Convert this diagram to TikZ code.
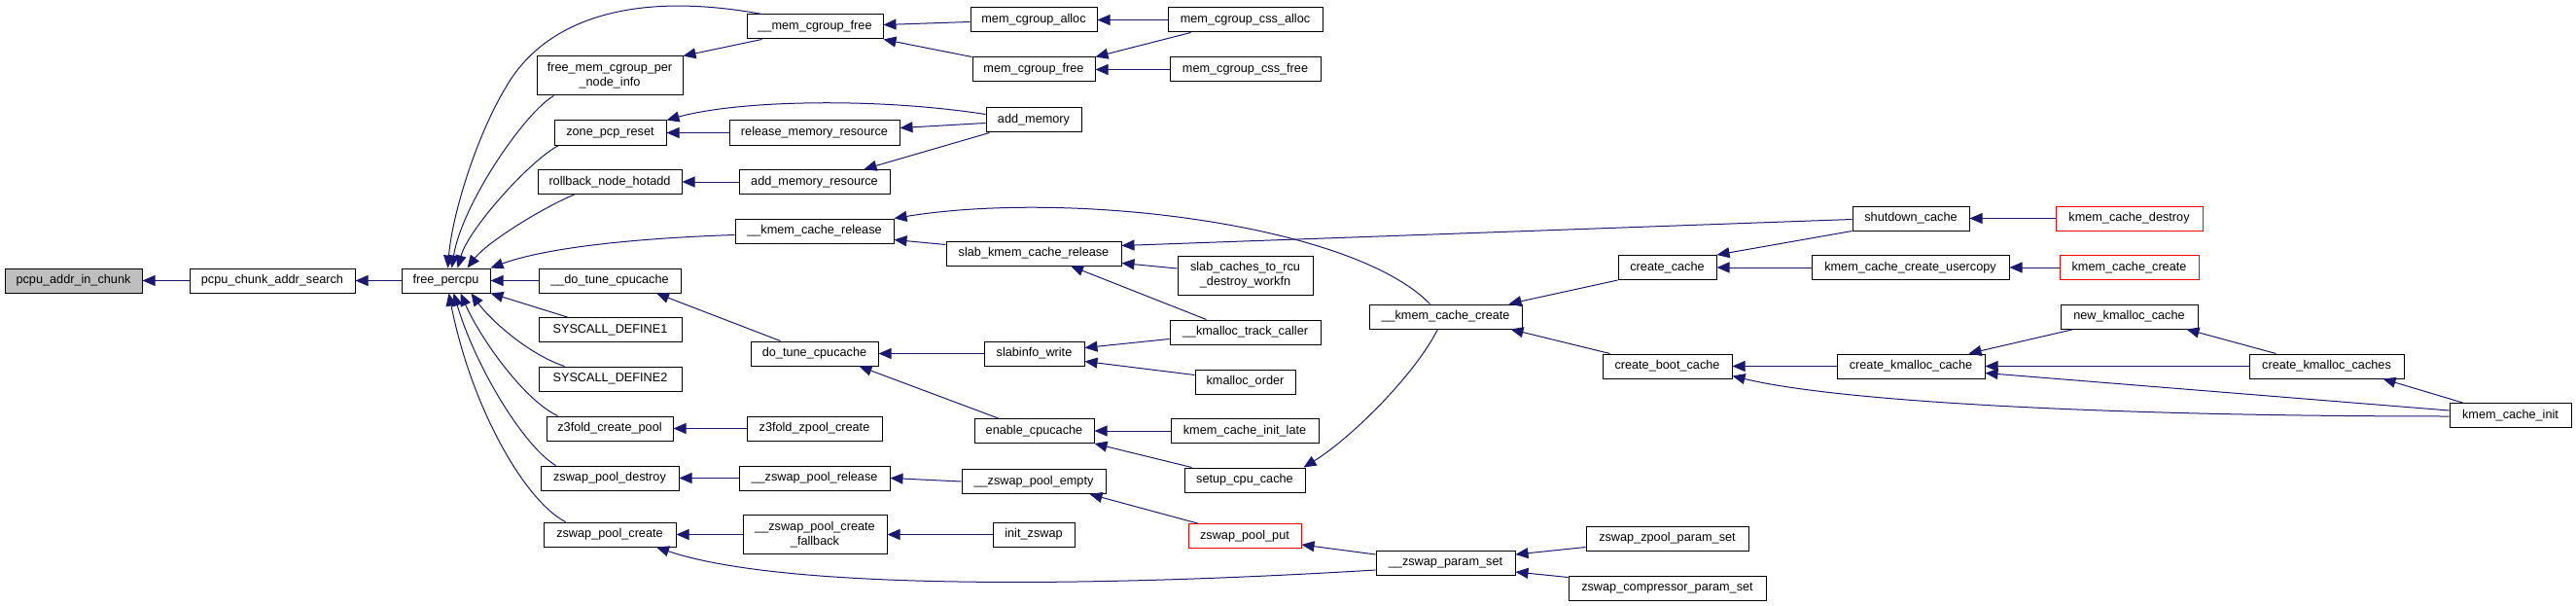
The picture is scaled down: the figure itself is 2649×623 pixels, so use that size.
\documentclass[tikz,border=0pt]{standalone}
\usepackage{fontspec}
\setmainfont{Liberation Sans}
\usetikzlibrary{arrows.meta}
\definecolor{dxedge}{HTML}{191970}
\definecolor{dxroot}{HTML}{BFBFBF}
\definecolor{dxext}{HTML}{FF0000}

\begin{document}
\begin{tikzpicture}[x=1pt, y=-1pt,
  % plain function box
  fnbox/.style={draw=black, fill=white, line width=1pt, inner sep=0pt, minimum height=25pt,
    font=\fontsize{12.7}{15}\selectfont, align=center},
  % the function the graph is about
  fnroot/.style={fnbox, fill=dxroot},
  % callers whose own callers are cut off
  fnext/.style={fnbox, draw=dxext},
  % caller -> callee, head sits on the callee
  call/.style={draw=dxedge, line width=1pt, -{Triangle[length=13pt,width=11pt]}},
]
\useasboundingbox (0,0) rectangle (2649,623);

% column 0/1
\node[fnroot, minimum width=141] (pcpuaddr)   at (75.5,288.5) {pcpu\_addr\_in\_chunk};
\node[fnbox,  minimum width=170] (pcpusearch) at (280,288.5)  {pcpu\_chunk\_addr\_search};
\node[fnbox,  minimum width=91]  (freepercpu) at (458.5,288.5) {free\_percpu};

% column 2
\node[fnbox, minimum width=150, minimum height=40] (freememcg) at (627,78) {free\_mem\_cgroup\_per\\\_node\_info};
\node[fnbox, minimum width=115] (zonepcp)   at (627.5,136.5) {zone\_pcp\_reset};
\node[fnbox, minimum width=148] (rollback)  at (627,187)     {rollback\_node\_hotadd};
\node[fnbox, minimum width=146] (dotune)    at (627,288.5)   {\_\_do\_tune\_cpucache};
\node[fnbox, minimum width=147] (syscall1)  at (627.5,339)   {SYSCALL\_DEFINE1};
\node[fnbox, minimum width=147] (syscall2)  at (627.5,389.5) {SYSCALL\_DEFINE2};
\node[fnbox, minimum width=130] (z3create)  at (627,440.5)   {z3fold\_create\_pool};
\node[fnbox, minimum width=142] (zpdestroy) at (627,491.5)   {zswap\_pool\_destroy};
\node[fnbox, minimum width=136] (zpcreate)  at (627,549.5)   {zswap\_pool\_create};

% column 3
\node[fnbox, minimum width=140] (memcgfreeu) at (838,27.5)    {\_\_mem\_cgroup\_free};
\node[fnbox, minimum width=175] (releasemem) at (837.5,136.5) {release\_memory\_resource};
\node[fnbox, minimum width=155] (addmemres)  at (837.5,187)   {add\_memory\_resource};
\node[fnbox, minimum width=163] (kmemrel)    at (837.5,237.5) {\_\_kmem\_cache\_release};
\node[fnbox, minimum width=131] (dotunec)    at (837.5,363.5) {do\_tune\_cpucache};
\node[fnbox, minimum width=139] (z3zpool)    at (837.5,440.5) {z3fold\_zpool\_create};
\node[fnbox, minimum width=155] (zprelease)  at (837.5,491.5) {\_\_zswap\_pool\_release};
\node[fnbox, minimum width=148, minimum height=40] (fallback) at (838,549.5) {\_\_zswap\_pool\_create\\\_fallback};

% column 4
\node[fnbox, minimum width=130] (memcgalloc) at (1063,20.5)   {mem\_cgroup\_alloc};
\node[fnbox, minimum width=126] (memcgfree)  at (1063,71.5)   {mem\_cgroup\_free};
\node[fnbox, minimum width=98]  (addmemory)  at (1063,123.5)  {add\_memory};
\node[fnbox, minimum width=180] (slabrel)    at (1063,260.5)  {slab\_kmem\_cache\_release};
\node[fnbox, minimum width=103] (slabinfo)   at (1063.5,363.5) {slabinfo\_write};
\node[fnbox, minimum width=123] (enablecpu)  at (1063.5,443)  {enable\_cpucache};
\node[fnbox, minimum width=148] (zpempty)    at (1063,495)    {\_\_zswap\_pool\_empty};
\node[fnbox, minimum width=84]  (initzswap)  at (1063,549.5)  {init\_zswap};

% column 5
\node[fnbox, minimum width=159] (cssalloc)     at (1280.5,20.5)  {mem\_cgroup\_css\_alloc};
\node[fnbox, minimum width=155] (cssfree)      at (1280.5,71.5)  {mem\_cgroup\_css\_free};
\node[fnbox, minimum width=139, minimum height=40] (rcuwork) at (1280.5,283) {slab\_caches\_to\_rcu\\\_destroy\_workfn};
\node[fnbox, minimum width=155] (kmalloctrack) at (1280.5,341.5) {\_\_kmalloc\_track\_caller};
\node[fnbox, minimum width=103] (kmallocorder) at (1280.5,392.5) {kmalloc\_order};
\node[fnbox, minimum width=152] (initlate)     at (1280,443)     {kmem\_cache\_init\_late};
\node[fnbox, minimum width=124] (setupcpu)     at (1280,493.5)   {setup\_cpu\_cache};
\node[fnext, minimum width=116] (zppput)       at (1280,551)     {zswap\_pool\_put};

% column 6
\node[fnbox, minimum width=157] (kmemcreateu) at (1486.5,325.5) {\_\_kmem\_cache\_create};
\node[fnbox, minimum width=143] (zparamset)   at (1486.5,579)   {\_\_zswap\_param\_set};

% column 7
\node[fnbox, minimum width=101] (createcache) at (1714.5,275)   {create\_cache};
\node[fnbox, minimum width=133] (bootcache)   at (1714.5,376.5) {create\_boot\_cache};
\node[fnbox, minimum width=167] (zpoolparam)  at (1714.5,553.5) {zswap\_zpool\_param\_set};
\node[fnbox, minimum width=203] (compparam)   at (1714.5,604.5) {zswap\_compressor\_param\_set};

% columns 8..11
\node[fnbox, minimum width=120] (shutdown)   at (1965,224.5)   {shutdown\_cache};
\node[fnbox, minimum width=203] (usercopy)   at (1964.5,275)   {kmem\_cache\_create\_usercopy};
\node[fnbox, minimum width=152] (createkmc)  at (1965,376.5)   {create\_kmalloc\_cache};
\node[fnext, minimum width=151] (kcdestroy)  at (2189.5,224.5) {kmem\_cache\_destroy};
\node[fnext, minimum width=143] (kccreate)   at (2189.5,275)   {kmem\_cache\_create};
\node[fnbox, minimum width=141] (newkmc)     at (2189.5,325.5) {new\_kmalloc\_cache};
\node[fnbox, minimum width=159] (createkmcs) at (2392.5,376.5) {create\_kmalloc\_caches};
\node[fnbox, minimum width=125] (kcinit)     at (2581.5,427)   {kmem\_cache\_init};

% straight calls, side to side
\foreach \src/\dst in {pcpusearch/pcpuaddr, freepercpu/pcpusearch, dotune/freepercpu,
  cssalloc/memcgalloc, cssfree/memcgfree, releasemem/zonepcp, addmemres/rollback,
  slabinfo/dotunec, initlate/enablecpu, z3zpool/z3create, zprelease/zpdestroy,
  zpempty/zprelease, fallback/zpcreate, initzswap/fallback, kcdestroy/shutdown,
  usercopy/createcache, kccreate/usercopy, createkmc/bootcache, createkmcs/createkmc}
  \draw[call] (\src.west) -- (\dst.east);

% everything that lands on free_percpu
\draw[call] ([xshift=16pt]memcgfreeu.north west) .. controls (650,-10) and (560,20) .. (520,90)
  .. controls (490,140) and (465,220) .. ([xshift=2pt]freepercpu.north);
\draw[call] ([xshift=18pt]freememcg.south west) .. controls (540,115) and (475,210) .. ([xshift=6pt]freepercpu.north);
\draw[call] ([xshift=5pt]zonepcp.south west) .. controls (545,165) and (482,235) .. ([xshift=12pt]freepercpu.north);
\draw[call] ([xshift=38pt]rollback.south west) .. controls (555,215) and (500,250) .. ([xshift=22pt]freepercpu.north);
\draw[call] ([yshift=-4pt]kmemrel.west) .. controls (650,245) and (560,255) .. (freepercpu.north east);
\draw[call] ([xshift=30pt]syscall1.north west) -- (freepercpu.south east);
\draw[call] ([xshift=27pt]syscall2.north west) .. controls (545,365) and (505,330) .. ([xshift=26pt]freepercpu.south);
\draw[call] ([xshift=12pt]z3create.north west) .. controls (540,412) and (495,350) .. ([xshift=15pt]freepercpu.south);
\draw[call] ([xshift=16pt]zpdestroy.north west) .. controls (540,460) and (490,380) .. ([xshift=8pt]freepercpu.south);
\draw[call] ([xshift=23pt]zpcreate.north west) .. controls (540,515) and (485,420) .. ([xshift=3pt]freepercpu.south);

% mem_cgroup
\draw[call] ([xshift=16pt]memcgfreeu.south west) -- (freememcg.north east);
\draw[call] ([yshift=-2pt]memcgalloc.west) -- ([yshift=2pt]memcgfreeu.east);
\draw[call] (memcgfree.north west) -- (memcgfreeu.south east);
\draw[call] ([xshift=24pt]cssalloc.south west) -- (memcgfree.north east);

% memory hotplug
\draw[call] ([yshift=6pt]addmemory.west) .. controls (900,100) and (760,103) .. (zonepcp.north east);
\draw[call] ([yshift=-3pt]addmemory.west) -- ([yshift=5pt]releasemem.east);
\draw[call] ([xshift=4pt]addmemory.south west) -- ([xshift=-27pt]addmemres.north east);

% slab
\draw[call] ([xshift=-16pt]kmemcreateu.north) .. controls (1390,230) and (1100,195) .. (kmemrel.north east);
\draw[call] ([yshift=9pt]slabrel.west) -- ([yshift=-9pt]kmemrel.east);
\draw[call] ([yshift=-1pt]shutdown.west) -- ([yshift=8pt]slabrel.east);
\draw[call] ([yshift=7pt]rcuwork.west) -- ([yshift=-10pt]slabrel.east);
\draw[call] ([xshift=-40pt]kmalloctrack.north) -- ([xshift=38pt]slabrel.south);
\draw[call] ([yshift=-7pt]kmalloctrack.west) -- ([yshift=6pt]slabinfo.east);
\draw[call] ([yshift=7pt]kmallocorder.west) -- ([yshift=-8pt]slabinfo.east);
\draw[call] ([xshift=-35pt]dotunec.north) -- ([xshift=48pt]dotune.south);
\draw[call] ([xshift=-37pt]enablecpu.north) -- ([xshift=46pt]dotunec.south);
\draw[call] ([xshift=8pt]setupcpu.north west) -- (enablecpu.south east);
\draw[call] ([xshift=-8pt]kmemcreateu.south) .. controls (1455,385) and (1390,450) .. ([xshift=-2pt]setupcpu.north east);

% zswap
\draw[call] ([xshift=10pt]zppput.north west) -- ([xshift=-17pt]zpempty.south east);
\draw[call] ([yshift=9pt]zparamset.west) -- ([yshift=-9pt]zppput.east);
\draw[call] ([yshift=-7pt]zparamset.west) .. controls (1100,605) and (800,605) .. ([xshift=48pt]zpcreate.south);
\draw[call] ([yshift=-9pt]zpoolparam.west) -- ([yshift=9pt]zparamset.east);
\draw[call] ([yshift=11pt]compparam.west) -- ([yshift=-9pt]zparamset.east);

% kmem_cache_create family
\draw[call] (createcache.south west) -- ([xshift=-14pt]kmemcreateu.north east);
\draw[call] ([xshift=8pt]bootcache.north west) -- ([xshift=-12pt]kmemcreateu.south east);
\draw[call] (shutdown.south west) -- (createcache.north east);
\draw[call] ([yshift=-1pt]kcinit.west) .. controls (2200,428) and (1900,415) .. ([yshift=-10pt]bootcache.east);
\draw[call] ([xshift=14pt]newkmc.south west) -- ([xshift=-17pt]createkmc.north east);
\draw[call] ([yshift=5pt]kcinit.west) -- ([yshift=-7pt]createkmc.east);
\draw[call] ([xshift=28pt]createkmcs.north west) -- ([xshift=-12pt]newkmc.south east);
\draw[call] ([xshift=14pt]kcinit.north west) -- ([xshift=-22pt]createkmcs.south east);
\end{tikzpicture}
\end{document}
